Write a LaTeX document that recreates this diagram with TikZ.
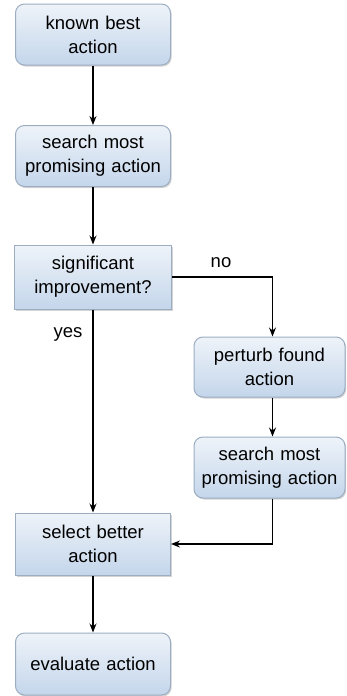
\documentclass[tikz,border=0pt]{standalone}
\usepackage{fontspec}
\setmainfont{Liberation Sans}
\usetikzlibrary{arrows.meta,shadows}
\definecolor{boxtop}{HTML}{EEF3F9}
\definecolor{boxbot}{HTML}{C4D6EB}
\definecolor{boxline}{HTML}{9CADC2}
\tikzset{
  base/.style={draw=boxline, line width=1pt, top color=boxtop, bottom color=boxbot,
    text width=150pt, align=center, minimum height=61pt, inner sep=0pt,
    font=\fontsize{18.5}{24}\selectfont,
    drop shadow={shadow xshift=1.2pt, shadow yshift=-1.5pt, opacity=0.35, fill=black!50}},
  roundbox/.style={base, rounded corners=9pt},
  rectbox/.style={base},
  flow/.style={draw=black, line width=1.3pt, -{Stealth[length=9pt,width=7pt,inset=3pt]}},
  lbl/.style={font=\fontsize{18.5}{24}\selectfont, inner sep=0pt}
}
\begin{document}
\begin{tikzpicture}[x=1pt,y=-1pt]
\useasboundingbox (0,0) rectangle (346,696);
\node[roundbox, minimum width=155pt] (a) at (93,34.5) {known best\\action};
\node[roundbox, minimum width=155pt] (b) at (93,156) {search most\\promising action};
\node[rectbox, minimum width=157pt, minimum height=64pt] (c) at (93,277) {significant\\improvement?};
\node[roundbox, minimum width=151pt, minimum height=60pt] (d) at (269.5,367) {perturb found\\action};
\node[roundbox, minimum width=151pt] (e) at (269.5,467.5) {search most\\promising action};
\node[rectbox, minimum width=155pt, minimum height=62pt] (f) at (93,544) {select better\\action};
\node[roundbox, minimum width=155pt, minimum height=62pt] (g) at (93,664) {evaluate action};
\draw[flow] (a) -- (b);
\draw[flow] (b) -- (c);
\draw[flow] (c.east) -| ([xshift=3pt]d.north);
\draw[flow] (c) -- (f);
\draw[flow] ([xshift=3pt]d.south) -- ([xshift=3pt]e.north);
\draw[flow] ([xshift=3pt]e.south) |- (f.east);
\draw[flow] (f) -- (g);
\node[lbl] (no) at (221,263) {no};
\node[lbl] (yes) at (68,334) {yes};
\end{tikzpicture}
\end{document}
